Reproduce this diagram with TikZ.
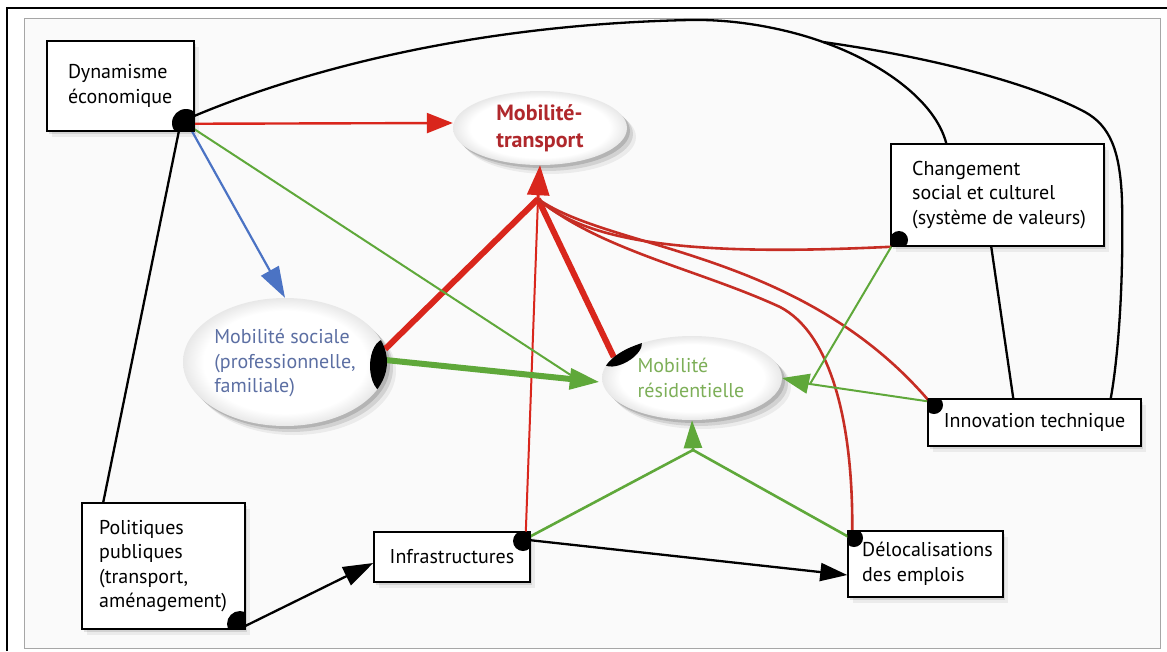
\documentclass[tikz,border=0pt]{standalone}
\usepackage{fontspec}
\setmainfont{PT Sans}
\usetikzlibrary{arrows.meta,shapes.geometric,shadows,calc}
\definecolor{tred}{HTML}{D9261C}
\definecolor{cred}{HTML}{C62D24}
\definecolor{dred}{HTML}{B0282C}
\definecolor{tgreen}{HTML}{5FA83A}
\definecolor{lgreen}{HTML}{7DAF58}
\definecolor{tblue}{HTML}{4B73C4}
\definecolor{sblue}{HTML}{5C6FA3}
\pgfdeclareradialshading{ellshade}{\pgfpoint{0bp}{0bp}}{color(0bp)=(white); color(20bp)=(white); color(25bp)=(black!9); color(50bp)=(black!9)}
\begin{document}
\begin{tikzpicture}[x=1pt,y=-1pt,
  boxshadow/.style={drop shadow={shadow xshift=2pt,shadow yshift=-3pt,opacity=.10,fill=black},
                    drop shadow={shadow xshift=5pt,shadow yshift=-6pt,opacity=.06,fill=black}},
  ellshadow/.style={drop shadow={shadow xshift=3pt,shadow yshift=-3pt,opacity=.14,fill=black},
                    drop shadow={shadow xshift=6pt,shadow yshift=-6pt,opacity=.10,fill=black},
                    drop shadow={shadow xshift=9pt,shadow yshift=-9pt,opacity=.06,fill=black}},
  box/.style={draw=black, line width=1.5pt, fill=white, inner sep=0pt, boxshadow},
  ell/.style={ellipse, inner sep=0pt, shading=ellshade, ellshadow},
  txt/.style={font=\fontsize{20}{24.5}\selectfont, align=left, inner sep=0pt},
  blk/.style={draw=black, line width=2.3pt},
  redl/.style={draw=tred, line width=2.4pt},
  redthick/.style={draw=tred, line width=6pt},
  redc/.style={draw=cred, line width=2.6pt},
  greenl/.style={draw=tgreen, line width=2pt},
  greenthick/.style={draw=tgreen, line width=6pt},
  bluel/.style={draw=tblue, line width=2.2pt}
]
\useasboundingbox (0,0) rectangle (1167,651);
\fill[white] (0,0) rectangle (1167,651);
\draw[gray!70, line width=1pt, fill=black!2] (24,18) rectangle (1160,648);
\draw[black, line width=1.2pt] (7,651) -- (7,8) -- (1167,8);

% boxes
\node[box, minimum width=147pt, minimum height=90pt] (dyn) at (120.5,86) {};
\node[txt, anchor=west] (dynt) at (68,86) {Dynamisme\\économique};
\node[box, minimum width=213pt, minimum height=102pt] (chg) at (997.5,195) {};
\node[txt, anchor=west] (chgt) at (912,195) {Changement\\social et culturel\\(système de valeurs)};
\node[box, minimum width=213pt, minimum height=47pt] (inn) at (1034.5,422.5) {};
\node[txt] (innt) at (inn.center) {Innovation technique};
\node[box, minimum width=163pt, minimum height=126pt] (pol) at (163.5,566) {};
\node[txt, anchor=west] (polt) at (99,566) {Politiques\\publiques\\(transport,\\aménagement)};
\node[box, minimum width=156pt, minimum height=50pt] (inf) at (452,557) {};
\node[txt] (inft) at (inf.center) {Infrastructures};
\node[box, minimum width=155pt, minimum height=66pt] (del) at (925.5,564) {};
\node[txt, anchor=west] (delt) at (862,564) {Délocalisations\\des emplois};

% ellipses
\node[ell, minimum width=174pt, minimum height=74pt] (mt) at (540,128) {};
\node[txt, font=\fontsize{22}{27}\selectfont\bfseries, text=dred] (mtt) at (mt.center) {Mobilité-\\transport};
\node[ell, minimum width=204pt, minimum height=128pt] (ms) at (285,362) {};
\node[txt, text=sblue] (mst) at (285,363) {Mobilité sociale\\(professionnelle,\\familiale)};
\node[ell, minimum width=180pt, minimum height=84pt] (mr) at (692,378) {};
\node[txt, text=lgreen] (mrt) at (691,378) {Mobilité\\résidentielle};

% convergence points
\coordinate (rt) at (538,199);
\coordinate (gr) at (810,384);
\coordinate (gb) at (693,450);
\coordinate (gl) at ($(mr.west)+(-2,4)$);
\coordinate (J) at (823,42);

% black connectors
\draw[blk] ($(dyn.south east)+(0,-16)$) .. controls (280,80) and (450,25) .. (690,20)
   .. controls (740,19) and (790,30) .. (J);
\draw[blk] (J) .. controls (880,62) and (935,100) .. ($(chg.north west)+(56,0)$);
\draw[blk] (J) .. controls (950,60) and (1040,88) .. (1085,112)
   .. controls (1110,126) and (1120,150) .. (1122,200)
   .. controls (1124,300) and (1116,370) .. ($(inn.north east)+(-31,0)$);
\draw[blk] ($(dyn.south east)+(-16,0)$) -- ($(pol.north west)+(22,0)$);
\draw[blk] ($(chg.south west)+(101,0)$) -- ($(inn.north west)+(86,0)$);
\draw[blk, -{Triangle[length=30pt,width=20pt]}] ($(pol.south east)+(0,-4)$) -- ($(inf.west)+(0,6)$);
\draw[blk, -{Triangle[length=27pt,width=18pt]}] ($(inf.north east)+(0,9)$) -- ($(del.west)+(0,11)$);

% red connectors
\draw[redl, -{Triangle[length=26pt,width=20pt]}] ($(dyn.south east)+(0,-8)$) -- ($(mt.west)+(0,-5)$);
\draw[redthick] ($(ms.east)+(-2,-13)$) -- (rt);
\draw[redl, line width=2pt] ($(inf.north east)+(-5,2)$) -- (rt);
\draw[redthick] (mr.165) -- (rt);
\draw[redc] ($(chg.south west)+(1,0)$) .. controls (700,256) and (590,245) .. (rt);
\draw[redc] ($(inn.north west)+(2,3)$) .. controls (800,250) and (610,250) .. (rt);
\draw[redc] ($(del.north west)+(5,0)$) .. controls (853,420) and (830,333) .. (780,307)
   .. controls (700,270) and (600,250) .. (rt);
\draw[redl, line width=3pt, -{Triangle[length=30pt,width=22pt]}] (rt) -- (mt.south);

% blue connector
\draw[bluel, -{Triangle[length=31pt,width=20pt]}] ($(dyn.south east)+(-3,-1)$) -- (ms.north);

% green connectors
\draw[greenl] ($(dyn.south east)+(-1,-3)$) -- ($(gl)+(-20,-1)$);
\draw[greenthick, -{Triangle[length=30pt,width=20pt]}] ($(ms.east)+(-2,-2)$) -- (gl);
\draw[greenl] ($(chg.south west)+(1,0)$) -- (gr);
\draw[greenl] ($(inn.north west)+(0,3)$) -- (gr);
\draw[greenl, -{Triangle[length=27pt,width=20pt]}] (gr) -- (mr.east);
\draw[greenl, line width=2.6pt] ($(inf.north east)+(-2,6)$) -- (gb);
\draw[greenl, line width=2.6pt] ($(del.north west)+(2,7)$) -- (gb);
\draw[greenl, line width=2.6pt, -{Triangle[length=28pt,width=18pt]}] (gb) -- (mr.south);

% start markers
\begin{scope}\clip (dyn.south west) rectangle (dyn.north east); \fill (186,123) circle [radius=14]; \end{scope}
\begin{scope}\clip (chg.south west) rectangle (chg.north east); \fill (899,240) circle [radius=9]; \end{scope}
\begin{scope}\clip (inn.south west) rectangle (inn.north east); \fill (934,405) circle [radius=9]; \end{scope}
\begin{scope}\clip (del.south west) rectangle (del.north east); \fill (854,538) circle [radius=9]; \end{scope}
\begin{scope}\clip (inf.south west) rectangle (inf.north east); \fill (523,541) circle [radius=10]; \end{scope}
\begin{scope}\clip (pol.south west) rectangle (pol.north east); \fill (240,624) circle [radius=13]; \end{scope}
\begin{scope}\clip (ms.center) ellipse [x radius=102, y radius=64]; \fill (385,366) ellipse [x radius=15, y radius=27]; \end{scope}
\begin{scope}\clip (mr.center) ellipse [x radius=90, y radius=42]; \fill[rotate around={30:(622,352)}] (622,352) ellipse [x radius=22, y radius=11]; \end{scope}
\end{tikzpicture}
\end{document}
